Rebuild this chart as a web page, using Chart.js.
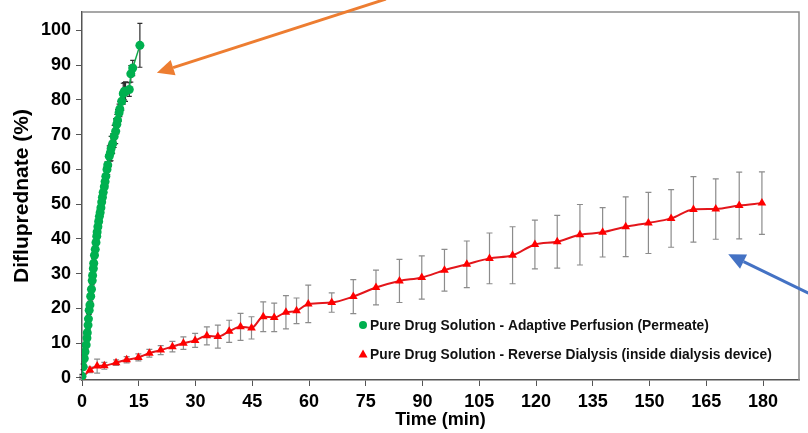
<!DOCTYPE html>
<html>
<head>
<meta charset="utf-8">
<script src="https://cdn.jsdelivr.net/npm/chart.js@4/dist/chart.umd.min.js"></script>
<style>
html, body { margin: 0; padding: 0; background: #fff; }
#wrap { width: 808px; height: 433px; }
</style>
</head>
<body>
<div id="wrap"><canvas id="myChart"></canvas></div>
<script>
const seriesLabels = ['Pure Drug Solution - Adaptive Perfusion (Permeate)', 'Pure Drug Solution - Reverse Dialysis (inside dialysis device)']

const greenTime = [0, 0.3, 0.6, 0.8, 1.1, 1.3, 1.4, 1.6, 1.7, 1.9, 2.1, 2.3, 2.5, 2.7, 2.8, 3.0, 3.1, 3.3, 3.5, 3.7, 3.9, 4.0, 4.2, 4.4, 4.6, 4.8, 5.0, 5.2, 5.4, 5.6, 5.9, 6.1, 6.3, 6.6, 6.8, 7.2, 7.5, 7.7, 8.1, 8.5, 8.9, 9.2, 9.4, 9.8, 10.0, 10.5, 10.9, 11.2, 11.5, 12.5, 12.9, 13.4, 15.3]
const greenValue = [0.5, 3.2, 5.6, 7.5, 9.5, 11.5, 13.0, 15.2, 17.0, 19.5, 21.0, 23.5, 25.5, 28.0, 29.5, 31.5, 33.0, 35.3, 37.0, 39.0, 40.8, 42.0, 43.5, 45.0, 46.5, 47.6, 49.0, 50.6, 52.0, 53.4, 55.0, 56.5, 58.0, 60.0, 61.3, 63.8, 64.8, 66.0, 67.4, 69.5, 71.0, 73.0, 74.2, 76.3, 77.4, 79.6, 81.8, 82.5, 82.4, 83.0, 87.5, 89.2, 95.7]
const greenErr = [0.5, 0.8, 1.0, 1.5, 1.2, 1.5, 1.0, 1.3, 1.5, 1.2, 1.0, 1.4, 1.6, 1.2, 1.5, 1.8, 1.3, 1.5, 1.2, 1.6, 1.4, 1.8, 1.5, 2.0, 1.6, 1.8, 1.5, 2.2, 1.8, 1.5, 2.0, 1.8, 2.5, 2.2, 2.8, 3.0, 2.4, 3.5, 2.8, 3.2, 3.6, 2.8, 3.0, 2.5, 2.2, 2.6, 3.0, 2.5, 2.8, 2.0, 2.4, 2.2, 6.3]

const redTime = [0, 2.1, 4.0, 5.9, 9.0, 11.8, 14.9, 17.8, 20.8, 23.9, 26.8, 29.9, 33.0, 35.9, 38.9, 41.9, 44.8, 47.9, 50.8, 53.9, 56.7, 59.8, 66.0, 71.7, 77.7, 83.9, 89.8, 95.8, 101.7, 107.7, 113.8, 119.7, 125.6, 131.6, 137.6, 143.7, 149.7, 155.7, 161.6, 167.5, 173.7, 179.7]
const redValue = [0, 2.3, 3.4, 3.5, 4.4, 5.2, 5.9, 7.1, 8.0, 9.0, 10.0, 10.8, 12.1, 11.9, 13.4, 14.7, 14.4, 17.6, 17.4, 18.9, 19.3, 21.3, 21.7, 23.4, 26.0, 27.9, 28.9, 31.0, 32.7, 34.4, 35.3, 38.4, 39.2, 41.2, 41.9, 43.5, 44.6, 45.9, 48.5, 48.6, 49.6, 50.3]
const redErr = [0.5, 0.8, 2.0, 1.0, 0.8, 0.9, 1.0, 1.1, 1.3, 1.5, 1.8, 2.0, 2.6, 3.3, 3.2, 3.9, 3.2, 4.3, 4.1, 4.8, 3.7, 5.4, 2.8, 4.9, 5.0, 6.2, 6.2, 6.0, 6.7, 7.3, 8.2, 7.0, 7.6, 8.7, 7.1, 8.6, 8.8, 8.3, 9.4, 8.7, 9.6, 9.0]

const xTickStep = 15
const yTickStep = 10

const fontFamily = "'Liberation Sans', Arial, sans-serif"

function toPoints(xs, ys) {
    return xs.map((x, i) => ({ x: x, y: ys[i] }))
}

const errorBars = {
    id: 'errorBars',
    beforeDatasetsDraw(chart) {
        const ctx = chart.ctx
        const xs = chart.scales.x
        const ys = chart.scales.y
        chart.data.datasets.forEach((ds) => {
            ctx.save()
            ctx.strokeStyle = ds.errorColor
            ctx.lineWidth = 1.2
            ds.data.forEach((p, i) => {
                const e = ds.errors[i]
                const px = xs.getPixelForValue(p.x)
                const top = ys.getPixelForValue(p.y + e)
                const bot = ys.getPixelForValue(p.y - e)
                const w = ds.capWidth
                ctx.beginPath()
                ctx.moveTo(px, top)
                ctx.lineTo(px, bot)
                ctx.moveTo(px - w, top)
                ctx.lineTo(px + w, top)
                ctx.moveTo(px - w, bot)
                ctx.lineTo(px + w, bot)
                ctx.stroke()
            })
            ctx.restore()
        })
    }
}

function arrow(ctx, x1, y1, x2, y2, color) {
    const ang = Math.atan2(y2 - y1, x2 - x1)
    const len = 17
    const half = 8
    const bx = x2 - len * Math.cos(ang)
    const by = y2 - len * Math.sin(ang)
    ctx.save()
    ctx.strokeStyle = color
    ctx.fillStyle = color
    ctx.lineWidth = 3
    ctx.beginPath()
    ctx.moveTo(x1, y1)
    ctx.lineTo(bx, by)
    ctx.stroke()
    ctx.beginPath()
    ctx.moveTo(x2, y2)
    ctx.lineTo(bx + half * Math.sin(ang), by - half * Math.cos(ang))
    ctx.lineTo(bx - half * Math.sin(ang), by + half * Math.cos(ang))
    ctx.closePath()
    ctx.fill()
    ctx.restore()
}

const frameAndNotes = {
    id: 'frameAndNotes',
    afterDraw(chart) {
        const ctx = chart.ctx
        const a = chart.chartArea
        const xs = chart.scales.x
        const ys = chart.scales.y
        ctx.save()
        ctx.strokeStyle = '#8a8a8a'
        ctx.lineWidth = 1.5
        ctx.beginPath()
        ctx.moveTo(a.left, a.top)
        ctx.lineTo(a.right, a.top)
        ctx.lineTo(a.right, a.bottom)
        ctx.stroke()
        ctx.restore()

        // legend inside the plot
        const lx = a.left + 281
        const rows = [a.bottom - 55, a.bottom - 26]
        ctx.save()
        ctx.font = 'bold 13.8px ' + fontFamily
        ctx.textBaseline = 'middle'
        chart.data.datasets.forEach((ds, i) => {
            const y = rows[i]
            ctx.fillStyle = ds.pointBackgroundColor
            ctx.beginPath()
            if (ds.pointStyle === 'triangle') {
                ctx.moveTo(lx, y - 4.5)
                ctx.lineTo(lx + 4.5, y + 3.5)
                ctx.lineTo(lx - 4.5, y + 3.5)
                ctx.closePath()
            } else {
                ctx.arc(lx, y, 4, 0, Math.PI * 2)
            }
            ctx.fill()
            ctx.fillStyle = '#111'
            ctx.fillText(ds.label, lx + 7, y + 1)
        })
        ctx.restore()

        arrow(ctx, xs.getPixelForValue(80.3), ys.getPixelForValue(109), xs.getPixelForValue(19.8), ys.getPixelForValue(87.8), '#ed7d31')
        arrow(ctx, xs.getPixelForValue(192), ys.getPixelForValue(24.4), xs.getPixelForValue(170.8), ys.getPixelForValue(35.6), '#4472c4')
    }
}

function grafico() {
    const ctx = document.getElementById('myChart')

    new Chart(ctx, {
        type: 'line',
        data: {
            datasets: [
                {
                    label: seriesLabels[0],
                    data: toPoints(greenTime, greenValue),
                    errors: greenErr,
                    errorColor: '#2e2e2e',
                    capWidth: 2.5,
                    borderColor: '#12a94a',
                    borderWidth: 1.5,
                    pointStyle: 'circle',
                    pointRadius: 4.5,
                    pointBorderWidth: 0,
                    pointBackgroundColor: '#00b04f',
                    tension: 0
                },
                {
                    label: seriesLabels[1],
                    data: toPoints(redTime, redValue),
                    errors: redErr,
                    errorColor: '#8c8c8c',
                    capWidth: 3,
                    borderColor: '#e3161b',
                    borderWidth: 2,
                    pointStyle: 'triangle',
                    pointRadius: 5,
                    pointBorderWidth: 0,
                    pointBackgroundColor: '#ff0000',
                    cubicInterpolationMode: 'monotone'
                }
            ]
        },
        options: {
            responsive: true,
            maintainAspectRatio: false,
            animation: false,
            layout: {
                padding: { top: 12, right: 9, left: 4, bottom: 2 }
            },
            plugins: {
                legend: { display: false },
                tooltip: { enabled: false }
            },
            scales: {
                x: {
                    type: 'linear',
                    min: 0,
                    max: 189.5,
                    border: { color: '#555', width: 1.5 },
                    grid: { drawOnChartArea: false, drawTicks: true, tickLength: 6, color: '#555' },
                    ticks: {
                        stepSize: xTickStep,
                        includeBounds: false,
                        color: '#000',
                        padding: 5,
                        maxRotation: 0,
                        font: { family: fontFamily, size: 18, weight: 'bold' }
                    },
                    title: {
                        display: true,
                        text: 'Time (min)',
                        color: '#000',
                        padding: { top: 0, bottom: 0 },
                        font: { family: fontFamily, size: 18, weight: 'bold' }
                    },
                    afterFit(scale) {
                        scale.height = 51
                        scale.paddingLeft = 0
                        scale.paddingRight = 0
                    }
                },
                y: {
                    min: -0.6,
                    max: 105.3,
                    border: { color: '#555', width: 1.5 },
                    grid: { drawOnChartArea: false, drawTicks: true, tickLength: 6, color: '#555' },
                    ticks: {
                        stepSize: yTickStep,
                        includeBounds: false,
                        color: '#000',
                        padding: 5,
                        font: { family: fontFamily, size: 18, weight: 'bold' }
                    },
                    title: {
                        display: true,
                        text: 'Difluprednate (%)',
                        color: '#000',
                        padding: { top: 6, bottom: 4 },
                        font: { family: fontFamily, size: 21, weight: 'bold' }
                    },
                    afterFit(scale) {
                        scale.width = 78
                        scale.paddingTop = 0
                        scale.paddingBottom = 0
                    }
                }
            }
        },
        plugins: [errorBars, frameAndNotes]
    })
}

grafico()
</script>
</body>
</html>
